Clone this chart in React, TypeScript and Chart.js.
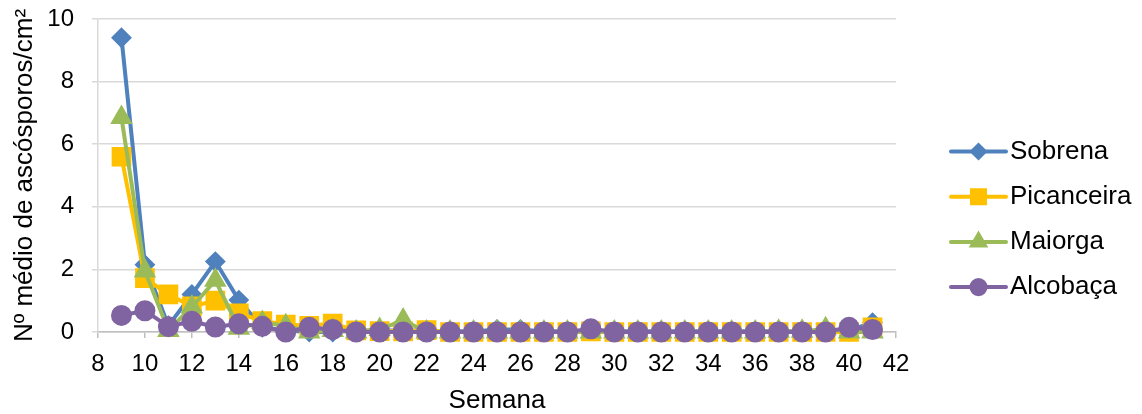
import React, { useEffect, useRef } from "react";
import { Chart, registerables } from "chart.js";
import { drawPoint } from "chart.js/helpers";

Chart.register(...registerables);

const weeks = [9, 10, 11, 12, 13, 14, 15, 16, 17, 18, 19, 20, 21, 22, 23, 24, 25, 26, 27, 28, 29, 30, 31, 32, 33, 34, 35, 36, 37, 38, 39, 40, 41];

const sobrena = [9.4, 2.15, 0.2, 1.2, 2.25, 1.02, 0.15, 0.05, 0.0, 0.0, 0.05, 0.05, 0.05, 0.05, 0.02, 0.02, 0.08, 0.08, 0.02, 0.02, 0.05, 0.02, 0.02, 0.02, 0.02, 0.02, 0.02, 0.02, 0.02, 0.02, 0.02, 0.05, 0.3];
const picanceira = [5.6, 1.72, 1.2, 0.82, 1.0, 0.6, 0.35, 0.24, 0.2, 0.27, 0.05, 0.03, 0.02, 0.06, 0.0, 0.0, 0.0, 0.0, 0.0, 0.0, 0.02, 0.0, 0.0, 0.0, 0.0, 0.0, 0.0, 0.0, 0.0, 0.0, 0.0, 0.0, 0.15];
const maiorga = [6.85, 1.95, 0.05, 0.8, 1.65, 0.12, 0.3, 0.2, 0.0, 0.05, 0.0, 0.08, 0.38, 0.0, 0.0, 0.0, 0.0, 0.0, 0.0, 0.0, 0.0, 0.0, 0.0, 0.0, 0.0, 0.0, 0.0, 0.0, 0.02, 0.02, 0.1, 0.0, 0.0];
const alcobaca = [0.53, 0.68, 0.17, 0.34, 0.16, 0.26, 0.18, 0.0, 0.15, 0.08, 0.0, 0.0, 0.0, 0.0, 0.0, 0.0, 0.0, 0.0, 0.0, 0.0, 0.1, 0.0, 0.0, 0.0, 0.0, 0.0, 0.0, 0.0, 0.0, 0.0, 0.0, 0.15, 0.08];

const seriesNames = ["Sobrena", "Picanceira", "Maiorga", "Alcobaça"];
const seriesColors = ["#4F81BD", "#FFC000", "#9BBB59", "#8064A2"];
const seriesStyles = ["rectRot", "rect", "triangle", "circle"];
const seriesRadius = [9, 12.5, 11, 9.5];

const xTitle = "Semana";
const yTitle = "Nº médio de ascósporos/cm²";

const FONT = "'Liberation Sans', Arial, sans-serif";

const sideLegend = {
  id: "sideLegend",
  afterDraw(chart: any) {
    const ctx = chart.ctx;
    const area = chart.chartArea;
    const x0 = area.right + 55;
    const x1 = area.right + 110;
    const tx = area.right + 114;
    const top = 151.5;
    const gap = 45.2;
    chart.data.datasets.forEach((ds: any, i: number) => {
      const y = top + i * gap;
      ctx.save();
      ctx.strokeStyle = ds.borderColor;
      ctx.lineWidth = 4;
      ctx.lineCap = "round";
      ctx.beginPath();
      ctx.moveTo(x0, y);
      ctx.lineTo(x1, y);
      ctx.stroke();
      ctx.fillStyle = ds.pointBackgroundColor;
      ctx.strokeStyle = ds.pointBorderColor;
      ctx.lineWidth = 2;
      drawPoint(ctx, { pointStyle: ds.pointStyle, radius: ds.pointRadius * 0.85, rotation: 0, borderWidth: 2 }, (x0 + x1) / 2, y);
      ctx.fillStyle = "#000";
      ctx.font = `26px ${FONT}`;
      ctx.textAlign = "left";
      ctx.textBaseline = "middle";
      ctx.fillText(ds.label, tx, y);
      ctx.restore();
    });
  },
};

export default function App() {
  const ref = useRef<HTMLCanvasElement | null>(null);

  useEffect(() => {
    document.body.style.margin = "0";
    document.body.style.overflow = "hidden";
    const canvas = ref.current;
    if (!canvas) return;
    const allSeries = [sobrena, picanceira, maiorga, alcobaca];
    const datasets = allSeries.map((vals, i) => ({
      label: seriesNames[i],
      data: weeks.map((w, j) => ({ x: w, y: vals[j] })),
      borderColor: seriesColors[i],
      backgroundColor: seriesColors[i],
      pointBackgroundColor: seriesColors[i],
      pointBorderColor: seriesColors[i],
      pointStyle: seriesStyles[i],
      pointRadius: seriesRadius[i],
      pointBorderWidth: 2,
      borderWidth: 4,
      tension: 0,
      clip: false as any,
      order: allSeries.length - i,
    }));

    const chart = new Chart(canvas, {
      type: "line",
      data: { datasets },
      plugins: [sideLegend],
      options: {
        responsive: false,
        animation: false,
        events: [],
        layout: { padding: { top: 19, right: 246, left: 0, bottom: 0 } },
        plugins: {
          legend: { display: false },
          tooltip: { enabled: false },
        },
        scales: {
          x: {
            type: "linear",
            min: 8,
            max: 42,
            afterFit: (s: any) => {
              s.height = 82;
              s.paddingLeft = 0;
              s.paddingRight = 0;
            },
            ticks: {
              stepSize: 2,
              color: "#000",
              padding: 12,
              font: { family: FONT, size: 24 },
              maxRotation: 0,
              autoSkip: false,
            },
            grid: {
              drawOnChartArea: false,
              drawTicks: true,
              tickLength: 6,
              color: "#BFBFBF",
              lineWidth: 1.5,
            },
            border: { color: "#BFBFBF", width: 1.5 },
            title: {
              display: true,
              text: xTitle,
              color: "#000",
              font: { family: FONT, size: 26, lineHeight: 1 },
              padding: { top: 0, bottom: 0 },
            },
          },
          y: {
            type: "linear",
            min: 0,
            max: 10,
            afterFit: (s: any) => {
              s.width = 98;
              s.paddingTop = 0;
              s.paddingBottom = 0;
            },
            ticks: {
              stepSize: 2,
              color: "#000",
              padding: 18,
              font: { family: FONT, size: 24 },
            },
            grid: {
              drawTicks: true,
              tickLength: 6,
              color: "#D9D9D9",
              lineWidth: 1.5,
            },
            border: { color: "#D9D9D9", width: 1.5 },
            title: {
              display: true,
              text: yTitle,
              color: "#000",
              font: { family: FONT, size: 26, lineHeight: 1 },
              padding: { top: 12, bottom: 0 },
            },
          },
        },
      },
    });
    return () => chart.destroy();
  }, []);

  return (
    <div style={{ width: 1142, height: 414 }}>
      <canvas ref={ref} width={1142} height={414} style={{ display: "block", width: 1142, height: 414 }} />
    </div>
  );
}
